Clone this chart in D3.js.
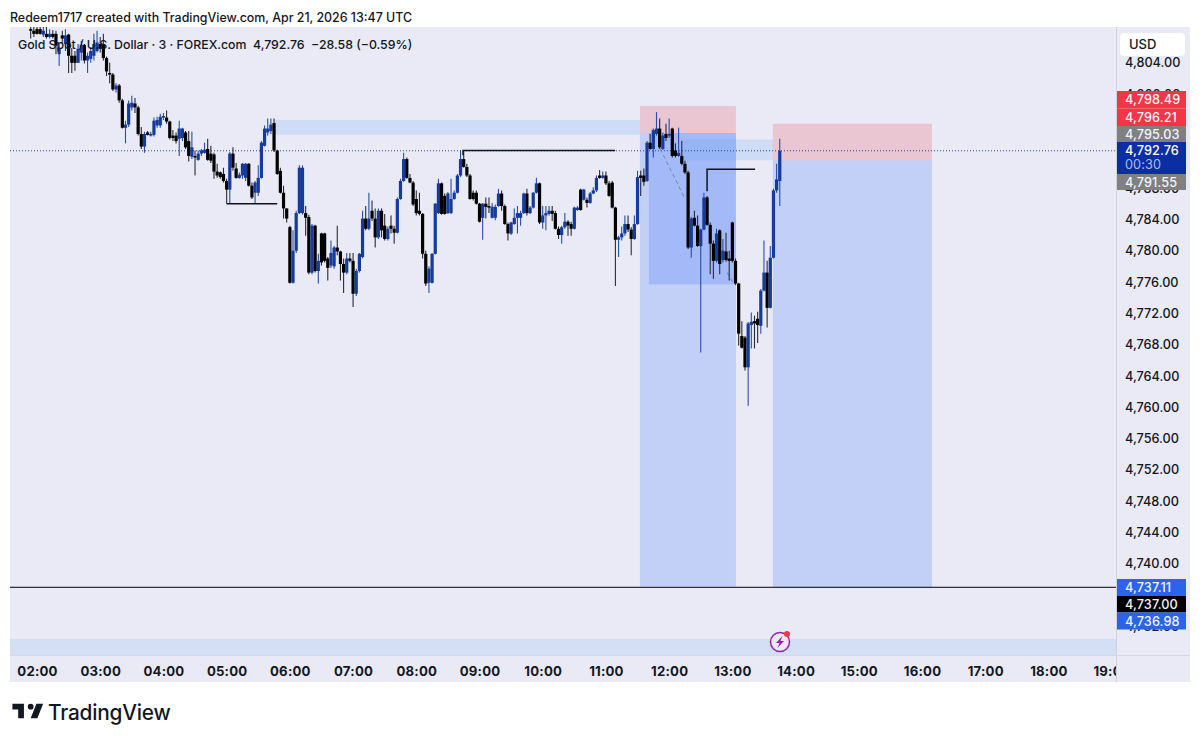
<!DOCTYPE html>
<html><head><meta charset="utf-8">
<script src="https://cdn.jsdelivr.net/npm/d3@7/dist/d3.min.js"></script>
<style>
html,body{margin:0;padding:0;background:#fff}
svg{display:block}
text{font-family:Inter,"Liberation Sans",sans-serif;fill:#131722}
</style></head><body><svg id="c" width="1200" height="742"></svg>
<script>
// ---- data: candles are 3-minute bars, first bar at 01:54 UTC
const firstBarMinute = 114, barMinutes = 3;
const opens = [
4808.3,4808.1,4808.3,4808.3,4807.6,4807.7,4807.3,4807.7,4807.7,4805.1,
4807.5,4806.4,4807.6,4804.9,4804.9,4804,4805.3,4806.3,4804.3,4804.5,
4804.9,4805.5,4806.4,4806.4,4804.6,4802.7,4802.5,4800.6,4801.1,4799.2,
4795.7,4796.1,4798.3,4798.8,4798.3,4794.9,4793.3,4795.1,4794.7,4794.8,
4796,4796,4797,4797,4796.5,4794.7,4794.7,4794.3,4794.4,4795.1,
4794,4792,4792.1,4791.6,4792.4,4792.5,4793,4792.4,4792.3,4790.1,
4790,4789.8,4788.9,4787.8,4792.4,4790.5,4789.3,4789.6,4789.3,4791.1,
4788.3,4787.4,4787.4,4789.3,4793.4,4795.1,4795.3,4796.3,4792.8,4790.2,
4787.4,4785.4,4783,4775.9,4780,4784.8,4784.8,4784.8,4784.3,4777.2,
4783.2,4777.4,4782.2,4782.2,4779,4778.1,4778,4780.4,4779.9,4778.3,
4777.2,4779,4778.7,4774.5,4777.4,4779.2,4784.1,4782.8,4785.1,4784.1,
4781.7,4785.1,4783.2,4781.5,4783.2,4782.8,4782.3,4786.6,4788.9,4791.7,
4789.3,4788.7,4786.6,4785.1,4784.7,4779.6,4775.9,4775.9,4779.6,4784.8,
4788.6,4787,4784.8,4784.8,4786.6,4787.4,4789.6,4791.7,4790.7,4789.6,
4787.4,4787.4,4786,4784.2,4786,4785.7,4784.2,4784.2,4785.7,4787.3,
4785.7,4783.4,4782.2,4783.4,4784.2,4784.2,4784.8,4787.3,4784.8,4785.5,
4787.4,4788.6,4783.6,4784.5,4784.7,4785.1,4784.8,4782.8,4782,4783,
4783.7,4783.4,4782.8,4785.2,4787.8,4786.5,4786.5,4786.1,4787.3,4787.7,
4789.6,4789.3,4789.6,4788.6,4788.7,4785.5,4781.4,4781.7,4782.2,4783.4,
4782.7,4781.5,4783.4,4789.6,4789.6,4788.9,4793.8,4793,4794.9,4795.6,
4793,4794.9,4794.7,4795.6,4792.8,4792.1,4792.1,4791.1,4790,4780.4,
4784.2,4783.2,4780.6,4782.7,4786.8,4783.3,4780.9,4778.7,4782.6,4778.8,
4779.9,4779,4783.6,4778.7,4775.8,4769.1,4768.9,4765.1,4770.5,4771,
4771.3,4770.4,4774.9,4777.2,4772.7,4779.1,4787.7,4788.9];
const highs = [
4808.7,4808.7,4808.7,4808.7,4808.7,4808.7,4808.3,4808.2,4808.1,4806.4,
4808.1,4808.3,4807.7,4805.9,4805.5,4806.4,4806.8,4806.4,4805.3,4806,
4807.7,4808.1,4807.3,4807.7,4804.8,4804,4802.7,4801.4,4801.3,4799.4,
4796.6,4799.2,4799.8,4799.5,4798.5,4795.8,4795.2,4795.3,4795.2,4797,
4797.1,4797.5,4797.6,4797.9,4796.6,4795.4,4795.1,4796.6,4795.7,4795.3,
4795.3,4795.2,4792.8,4792.8,4793,4793.8,4794.3,4793.4,4792.5,4791.1,
4790.1,4790.6,4789.2,4792.6,4793.2,4791.2,4790,4791.2,4791.2,4791.2,
4788.7,4788.9,4790.9,4794,4796,4796.9,4796.9,4796.9,4792.9,4790.6,
4788.3,4785.4,4783.2,4782.6,4785.1,4790.9,4790.9,4785.7,4784.6,4783.4,
4783.3,4779.6,4782.3,4782.3,4779.2,4781.3,4780.6,4783.2,4780,4779,
4779.7,4779.7,4779.7,4777.7,4779.7,4785.1,4785.7,4787.4,4786.4,4785.4,
4785.4,4785.4,4784.7,4783.1,4784.5,4783.2,4786.8,4789.2,4792.5,4791.9,
4789.8,4788.9,4787.7,4787.4,4784.8,4780,4778,4779.7,4786.1,4789.2,
4788.7,4787.3,4787.5,4789.2,4787.7,4789.8,4792.8,4792.8,4791.1,4789.8,
4787.7,4787.7,4786.1,4786.1,4786.8,4786.8,4786.1,4785.9,4787.9,4787.7,
4785.9,4783.6,4783.7,4785.4,4785.7,4785.1,4787.4,4787.9,4785.7,4787.5,
4789.3,4788.7,4785.7,4785.7,4785.7,4785.7,4785.1,4783.1,4783.2,4784.8,
4783.9,4783.7,4785.6,4785.7,4787.9,4787.9,4786.8,4787.5,4788.1,4789.6,
4790.3,4790.1,4790.1,4788.9,4788.9,4785.6,4781.9,4783.1,4784.5,4784.5,
4783,4784.5,4790.2,4790.2,4790.5,4794,4794.9,4795.6,4797.7,4796.9,
4795.1,4796.2,4796.9,4795.7,4793.7,4795.7,4794,4791.5,4790.2,4784.3,
4785.1,4784.5,4782.8,4787.4,4787,4783.6,4781.3,4782.8,4782.7,4781.5,
4782.3,4780,4783.7,4779,4775.9,4771,4769.1,4770.9,4772.1,4771.7,
4772.2,4775.1,4781.3,4778.7,4780.6,4787.9,4791.1,4794.3];
const lows = [
4807.1,4807.3,4807.6,4807.6,4807.3,4807.1,4807.1,4807.1,4805.1,4803.6,
4806.6,4805.5,4802.7,4802.7,4803,4804,4804.3,4803.9,4802.7,4804,
4804.3,4805.3,4805.3,4804.3,4802.3,4801.4,4800.4,4800.2,4798.9,4795.6,
4793.7,4795.8,4797.9,4797.6,4794.7,4793,4792.5,4794.7,4794.6,4794.6,
4795.7,4795.7,4796.7,4796.2,4794.2,4794,4793.7,4792.1,4794,4793,
4791.4,4791.7,4789.6,4791.5,4792.1,4792.4,4791.5,4791.2,4789.2,4789.3,
4789.2,4788.7,4786,4786,4790.2,4789.2,4789.2,4789.2,4788.9,4788.2,
4786.6,4786,4787,4789.2,4793.3,4794.7,4794.9,4792.6,4789.7,4787.3,
4784.1,4783.6,4775.8,4775.8,4779.7,4784.7,4784.6,4781.9,4777,4777,
4777.2,4775.8,4778.1,4778.5,4776.2,4777.8,4777.7,4779.4,4776.2,4774.6,
4777,4778.5,4772.8,4774.2,4777.2,4779,4782.6,4782.6,4783.8,4780.4,
4781.5,4781.7,4781.3,4781.3,4782.2,4780.9,4782.2,4786.5,4788.8,4789.2,
4788.6,4785.7,4784.5,4784.5,4779,4775.5,4774.6,4775.8,4779.5,4784.7,
4784.6,4784.6,4784.7,4784.7,4786.5,4787.3,4789.4,4790.6,4789.4,4786.5,
4786.4,4785.9,4783.6,4781.4,4784.1,4784.8,4784.1,4783.9,4785.6,4785.1,
4783.3,4781.3,4782,4783.3,4782.2,4783.2,4784.7,4784.5,4784.7,4785.4,
4787.3,4783.4,4782.8,4782.6,4784.5,4783.8,4782.7,4781.5,4780.9,4782.8,
4781.9,4781.9,4782.7,4785.1,4785.1,4786.4,4785.5,4786,4787.2,4787.5,
4789.2,4789.2,4788.4,4786.9,4785.4,4775.5,4779.2,4781.3,4781.9,4782.4,
4779.4,4781.4,4783.3,4787,4788.3,4788.8,4792.9,4791.9,4794.7,4793,
4792.9,4794,4794.4,4791.9,4791.9,4792,4790.9,4789.8,4780.2,4779.1,
4783.1,4780.5,4767,4782.6,4783.2,4777,4776.4,4778.5,4777,4778.5,
4778.6,4776.2,4778.5,4775.6,4767.9,4767.5,4764.7,4760.2,4767.5,4767.5,
4768.2,4769.4,4774.8,4770.2,4772.6,4779,4787.4,4785.7];
const closes = [
4808.1,4807.7,4807.7,4807.7,4808.1,4807.3,4807.7,4807.3,4806.2,4805.9,
4807.1,4807.5,4804.9,4804,4804,4805.8,4806.3,4804.3,4804.9,4805.5,
4806.4,4806.6,4805.8,4804.6,4802.9,4802.5,4800.6,4801.1,4799.2,4795.7,
4796.1,4798.8,4798.9,4798.3,4794.9,4793.3,4794.9,4794.8,4794.9,4796.6,
4796.7,4797.1,4797.2,4796.5,4794.4,4794.4,4794,4795.6,4795.6,4793.2,
4792.1,4793.2,4791.9,4792.4,4792.8,4792.9,4791.6,4791.5,4790.1,4789.6,
4789.4,4788.9,4787.8,4792.4,4790.6,4789.3,4789.7,4791.1,4791.1,4788.3,
4786.8,4788.7,4789.3,4793.8,4795.6,4795.6,4796.1,4792.8,4789.8,4787.4,
4785.4,4784.1,4775.9,4780,4784.8,4790.6,4790.6,4784.2,4777.2,4783.2,
4777.4,4778.7,4778.5,4778.7,4777.8,4779.7,4780.4,4779.9,4778.3,4777.2,
4779,4778.7,4774.5,4777.4,4779.6,4784.1,4782.8,4784.1,4784.1,4781.7,
4785.1,4782.6,4781.5,4782.8,4782.8,4782.3,4786.6,4788.9,4791.7,4789.3,
4788.7,4785.9,4784.8,4784.7,4779.6,4775.8,4777.7,4779.6,4786,4788.6,
4784.7,4784.7,4787.3,4786.6,4787.4,4789.6,4791.7,4790.7,4789.6,4786.6,
4786.6,4786,4783.7,4786,4785.6,4785.5,4785.6,4785.6,4787.3,4785.7,
4783.4,4782.2,4783.6,4784.2,4784.8,4784.8,4787.3,4784.8,4785.5,4787.4,
4788.6,4783.6,4784.5,4784.8,4785.1,4784.7,4782.8,4782,4783,4783.7,
4783.2,4782.8,4785.5,4785.5,4785.2,4787.8,4786.1,4787.3,4787.7,4789.3,
4789.3,4789.6,4788.6,4787,4785.5,4781.4,4781.7,4782.2,4783.4,4782.7,
4781.5,4783.4,4789.4,4789.3,4788.8,4793.8,4793,4795.4,4795.6,4793.2,
4794.7,4794.4,4794.9,4792.1,4792.1,4792.5,4791.1,4790,4780.4,4784.1,
4783.2,4780.6,4782.7,4786.8,4783.3,4780.9,4778.7,4782.2,4778.3,4780,
4778.8,4778.7,4778.7,4775.8,4769.4,4767.6,4765.1,4770.7,4770.9,4770.7,
4770.5,4774.9,4777.2,4772.7,4779.1,4787.7,4789.1,4792.76];

const priceTicks = d3.range(4804, 4728, -4);
const timeTickHours = d3.range(2, 20);

// zones: start / end minute of day, top / bottom price
const zoneNames   = ["longA","longB","shortA","shortB","entry","gapA","gapB"];
const zoneStart   = [692.3,818.5,692.3,818.5,700.8,345.5,731.5];
const zoneEnd     = [783.4,969.5,783.4,969.5,783.4,692.3,818.5];
const zoneTop     = [4795.03,4791.55,4798.49,4796.21,4795.03,4796.7,4794.2];
const zoneBottom  = [4737.11,4736.98,4795.03,4791.55,4775.7,4794.8,4791.55];
const zoneFill    = ["long","long","short","short","long","gap","gap"];

// level lines
const levelStart  = [300,524.4,756];
const levelEnd    = [348,668.7,801.6];
const levelPrice  = [4786,4792.8,4790.4];
const levelDrop   = [4786,4792.2,4787.6];

// price labels
const tagText  = ["4,798.49","4,796.21","4,795.03","4,791.55","4,737.11","4,737.00","4,736.98"];
const tagFill  = ["#f23645","#f23645","#808080","#808080","#2b63ea","#000000","#2b63ea"];
const tagTop   = [91,108.5,126,174,579,596,612.5];
const tagH     = [17.5,17.5,16,16,17,16.5,17];

const minute = m => new Date(Date.UTC(2026,3,21,0,0,m*60));
const x = d3.scaleUtc().domain([minute(120),minute(960)]).range([37,922]);
const y = d3.scaleLinear().domain([4804,4740]).range([62.8,563.8]);

const svg = d3.select("#c");
const defs = svg.append("defs");
defs.append("clipPath").attr("id","pane").append("rect").attr("x",10).attr("y",27).attr("width",1106).attr("height",628);
defs.append("clipPath").attr("id","timeclip").append("rect").attr("x",10).attr("y",655).attr("width",1106).attr("height",27);
defs.append("filter").attr("id","soft").append("feGaussianBlur").attr("stdDeviation",0.35);

// background
svg.append("rect").attr("x",10).attr("y",27).attr("width",1180).attr("height",655).attr("fill","#e9eaf5");

const pane = svg.append("g").attr("clip-path","url(#pane)");
// bottom band
pane.append("rect").attr("x",10).attr("width",1106).attr("y",639).attr("height",16).attr("fill","#d3dff5");

const fills = {long:"rgba(41,98,255,0.2)",short:"rgba(242,54,69,0.2)",gap:"rgba(100,165,245,0.2)"};
pane.append("g").selectAll("rect").data(zoneNames).join("rect")
  .attr("x",(d,i)=>x(minute(zoneStart[i])))
  .attr("width",(d,i)=>x(minute(zoneEnd[i]))-x(minute(zoneStart[i])))
  .attr("y",(d,i)=>y(zoneTop[i]))
  .attr("height",(d,i)=>y(zoneBottom[i])-y(zoneTop[i]))
  .attr("fill",(d,i)=>fills[zoneFill[i]]);

// current price dotted line
pane.append("line").attr("x1",10).attr("x2",1116).attr("y1",y(4792.76)).attr("y2",y(4792.76))
  .attr("stroke","#1f4aa8").attr("stroke-width",1).attr("stroke-dasharray","1 2");

// dashed trade path
const pathA=[[711.5,4793],[735.2,4786.6]], pathB=[[775,4777.2],[781,4775.8]];
[pathA,pathB].forEach(p=>pane.append("line")
  .attr("x1",x(minute(p[0][0]))).attr("y1",y(p[0][1])).attr("x2",x(minute(p[1][0]))).attr("y2",y(p[1][1]))
  .attr("stroke","#7f86a6").attr("stroke-dasharray","4 3").attr("stroke-width",1));

// candles
const bars = d3.range(opens.length);
const barX = i => x(minute(firstBarMinute + i*barMinutes));
const up = i => closes[i] >= opens[i];
const marks = pane.append("g").attr("filter","url(#soft)");
marks.selectAll("line").data(bars).join("line")
  .attr("x1",barX).attr("x2",barX)
  .attr("y1",i=>y(highs[i])).attr("y2",i=>y(lows[i]))
  .attr("stroke",i=>up(i)?"#2a4ea8":"#2b2b33").attr("stroke-width",1.1);
marks.selectAll("rect").data(bars).join("rect")
  .attr("x",i=>barX(i)-1.6).attr("width",3.2)
  .attr("y",i=>Math.min(y(opens[i]),y(closes[i])))
  .attr("height",i=>Math.max(1.2,Math.abs(y(opens[i])-y(closes[i]))))
  .attr("fill",i=>up(i)?"#123a9c":"#000");

// horizontal level markers
pane.append("g").selectAll("path").data(levelPrice).join("path")
  .attr("d",(d,i)=>d3.line()([[x(minute(levelEnd[i])),y(d)],[x(minute(levelStart[i])),y(d)],[x(minute(levelStart[i])),y(levelDrop[i])]]))
  .attr("fill","none").attr("stroke","#10131f").attr("stroke-width",1.5);

// target line
pane.append("line").attr("x1",10).attr("x2",1116).attr("y1",y(4737)).attr("y2",y(4737)).attr("stroke","#000").attr("stroke-width",1);

// axes
const yAxis = d3.axisRight(y).tickValues(priceTicks).tickSize(0).tickPadding(9).tickFormat(d3.format(",.2f"));
const ya = svg.append("g").attr("transform","translate(1116,0)").call(yAxis);
ya.select(".domain").remove();
ya.selectAll("text").attr("font-size",12.7).attr("font-weight",500).style("font-family","Inter");

const xAxis = d3.axisBottom(x).tickValues(timeTickHours.map(h=>minute(h*60))).tickSize(0).tickPadding(12).tickFormat(d3.utcFormat("%H:%M"));
const xa = svg.append("g").attr("clip-path","url(#timeclip)").append("g").attr("transform","translate(0,655)").call(xAxis);
xa.select(".domain").remove();
xa.selectAll("text").attr("font-size",13.2).attr("font-weight",700).attr("letter-spacing",0.2).style("font-family","Inter");

svg.append("line").attr("x1",1116.5).attr("x2",1116.5).attr("y1",27).attr("y2",682).attr("stroke","#cfd1de");
svg.append("line").attr("x1",10).attr("x2",1190).attr("y1",655.5).attr("y2",655.5).attr("stroke","#d6d8e4");

// USD button
svg.append("rect").attr("x",1120).attr("y",33).attr("width",65).attr("height",23).attr("rx",4).attr("fill","#fff");
svg.append("text").attr("x",1129).attr("y",49).attr("font-size",13).attr("font-weight",500).text("USD");

// price tags
const tags = svg.append("g").selectAll("g").data(tagText).join("g");
tags.append("rect").attr("x",1117).attr("width",69).attr("y",(d,i)=>tagTop[i]).attr("height",(d,i)=>tagH[i]).attr("fill",(d,i)=>tagFill[i]);
tags.append("text").attr("x",1125).attr("y",(d,i)=>tagTop[i]+tagH[i]/2+4.6)
  .attr("font-size",12.7).attr("font-weight",500).attr("letter-spacing",0.1)
  .style("fill","#f2f3fb").text(d=>d);
// last price tag
svg.append("rect").attr("x",1117).attr("y",142).attr("width",69).attr("height",32).attr("fill","#0b2fa3");
svg.append("text").attr("x",1125).attr("y",155).attr("font-size",12.7).attr("font-weight",500).attr("letter-spacing",0.1).style("fill","#fff").text("4,792.76");
svg.append("text").attr("x",1125).attr("y",169).attr("font-size",12.7).attr("letter-spacing",0.1).style("fill","#aebcf2").text("00:30");

// header
svg.append("text").attr("x",10).attr("y",22).attr("font-size",12.4).attr("font-weight",500).text("Redeem1717 created with TradingView.com, Apr 21, 2026 13:47 UTC");
svg.append("text").attr("x",18).attr("y",49).attr("font-size",12.3).attr("font-weight",500).attr("xml:space","preserve")
  .text("Gold Spot / U.S. Dollar · 3 · FOREX.com  4,792.76  −28.58 (−0.59%)");

// replay icon
const ic = svg.append("g").attr("transform","translate(780,642)");
ic.append("circle").attr("r",9.5).attr("fill","#efe7f6").attr("stroke","#9127a8").attr("stroke-width",1.5);
ic.append("path").attr("d","M2.5 -6 L-4 1 L-0.5 1 L-2.5 6 L4 -1 L0.5 -1 Z").attr("fill","#9127a8");
ic.append("circle").attr("cx",7).attr("cy",-8).attr("r",3).attr("fill","#f23645");

// logo
svg.append("path").attr("transform","translate(10.5,698) scale(0.96)")
  .attr("d","M14 6H2v6h6v9h6V6zm14 15h-7l6-15h7l-6 15zm-7-9a3 3 0 1 0 0-6 3 3 0 0 0 0 6z").attr("fill","#131722");
svg.append("text").attr("x",48).attr("y",719.5).attr("font-size",20.8).attr("font-weight",500).attr("letter-spacing",-0.2).text("TradingView");
</script></body></html>
